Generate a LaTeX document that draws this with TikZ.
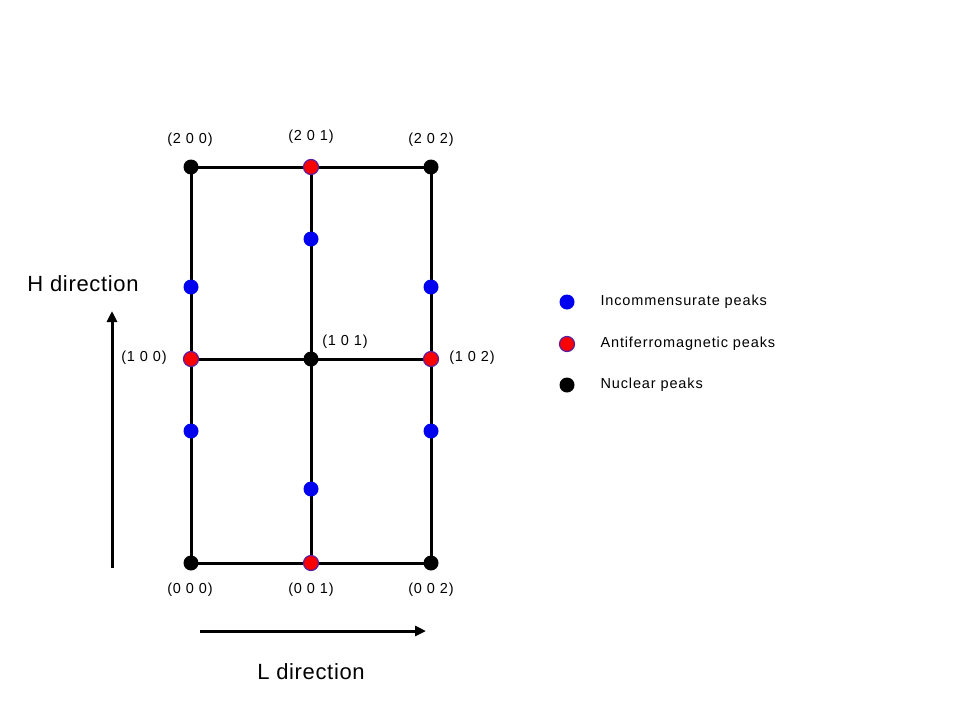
\documentclass[tikz,border=0pt]{standalone}
\usepackage{fontspec}
\setmainfont{Liberation Sans}
\newfontfamily\lblfont[LetterSpace=6]{Liberation Sans}
\newfontfamily\bigfont[LetterSpace=3]{Liberation Sans}
\usetikzlibrary{arrows.meta}
\begin{document}
\begin{tikzpicture}[x=1pt,y=-1pt,
  gridline/.style={line width=3pt,black},
  pk/.style={circle,inner sep=0pt,minimum size=15pt},
  incpk/.style={pk,fill={rgb,255:red,0;green,0;blue,240}},
  afpk/.style={pk,fill={rgb,255:red,250;green,0;blue,0},draw={rgb,255:red,90;green,30;blue,160},line width=1.2pt},
  nucpk/.style={pk,fill=black},
  lbl/.style={font=\lblfont\fontsize{14.5}{17}\selectfont},
  big/.style={font=\bigfont\fontsize{22}{26}\selectfont},
  arr/.style={line width=3pt,-{Triangle[length=11pt,width=10pt]}}]
\useasboundingbox (0,0) rectangle (960,720);
% grid coordinates
\coordinate (g00) at (191,563);
\coordinate (g01) at (311,563);
\coordinate (g02) at (431,563);
\coordinate (g10) at (191,359);
\coordinate (g11) at (311,359);
\coordinate (g12) at (431,359);
\coordinate (g20) at (191,167);
\coordinate (g21) at (311,167);
\coordinate (g22) at (431,167);
\draw[gridline] (g00) -- (g02) -- (g22) -- (g20) -- cycle;
\draw[gridline] (g01) -- (g21);
\draw[gridline] (g10) -- (g12);
% incommensurate
\node[incpk] (i1) at (191,287) {};
\node[incpk] (i2) at (191,431) {};
\node[incpk] (i3) at (311,239) {};
\node[incpk] (i4) at (311,489) {};
\node[incpk] (i5) at (431,287) {};
\node[incpk] (i6) at (431,431) {};
% antiferromagnetic
\node[afpk] (a1) at (g21) {};
\node[afpk] (a2) at (g10) {};
\node[afpk] (a3) at (g12) {};
\node[afpk] (a4) at (g01) {};
% nuclear
\node[nucpk] (n1) at (g00) {};
\node[nucpk] (n2) at (g02) {};
\node[nucpk] (n3) at (g20) {};
\node[nucpk] (n4) at (g22) {};
\node[nucpk] (n5) at (g11) {};
% labels
\node[lbl] (l200) at (190,140) {(2 0 0)};
\node[lbl] (l201) at (311,137) {(2 0 1)};
\node[lbl] (l202) at (431,140) {(2 0 2)};
\node[lbl] (l100) at (144,358) {(1 0 0)};
\node[lbl] (l101) at (345,342) {(1 0 1)};
\node[lbl] (l102) at (472,358) {(1 0 2)};
\node[lbl] (l000) at (190,590) {(0 0 0)};
\node[lbl] (l001) at (311,590) {(0 0 1)};
\node[lbl] (l002) at (431,590) {(0 0 2)};
% direction arrows
\coordinate (hs) at (112,568);
\coordinate (he) at (112,311);
\draw[arr] (hs) -- (he);
\coordinate (ls) at (200,631);
\coordinate (le) at (426,631);
\draw[arr] (ls) -- (le);
\node[big] (hdir) at (83,284) {H direction};
\node[big] (ldir) at (311,672) {L direction};
% legend
\node[incpk] (k1) at (567,302) {};
\node[afpk] (k2) at (567,344) {};
\node[nucpk] (k3) at (567,385) {};
\node[lbl,anchor=west] (t1) at (597,302) {Incommensurate peaks};
\node[lbl,anchor=west] (t2) at (597,344) {Antiferromagnetic peaks};
\node[lbl,anchor=west] (t3) at (597,385) {Nuclear peaks};
\end{tikzpicture}
\end{document}
